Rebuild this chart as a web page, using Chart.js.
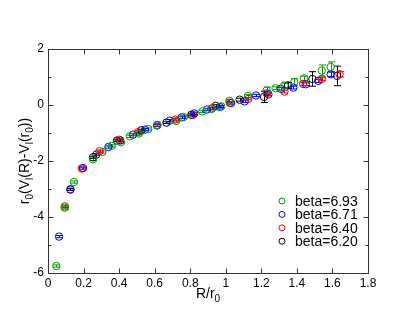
<!DOCTYPE html>
<html>
<head>
<meta charset="utf-8">
<script src="https://cdn.jsdelivr.net/npm/chart.js@4"></script>
<style>
  body { margin: 0; background: #fff; }
  #wrap { width: 415px; height: 321px; }
</style>
</head>
<body>
<div id="wrap"><canvas id="potChart" width="415" height="321"></canvas></div>
<script>
// beta = 6.93
const x693 = [0.047, 0.094, 0.146, 0.253, 0.306, 0.358, 0.41, 0.46, 0.51, 0.564, 0.615, 0.72, 0.763, 0.868, 0.92, 0.975, 1.02, 1.125, 1.23, 1.28, 1.33, 1.385, 1.44, 1.54, 1.59];
const y693 = [-5.75, -3.67, -2.75, -1.94, -1.68, -1.46, -1.33, -1.12, -1.02, -0.86, -0.72, -0.57, -0.43, -0.23, -0.14, -0.05, 0.15, 0.32, 0.52, 0.60, 0.70, 0.82, 0.95, 1.23, 1.36];
const e693 = [0.04, 0.04, 0.04, 0.04, 0.04, 0.04, 0.04, 0.04, 0.04, 0.04, 0.04, 0.04, 0.04, 0.04, 0.04, 0.04, 0.05, 0.05, 0.12, 0.05, 0.08, 0.12, 0.08, 0.2, 0.18];
// beta = 6.71
const x671 = [0.062, 0.126, 0.197, 0.272, 0.34, 0.407, 0.478, 0.546, 0.613, 0.684, 0.752, 0.823, 0.894, 0.966, 1.03, 1.106, 1.17, 1.24, 1.31, 1.38, 1.45, 1.52, 1.59];
const y671 = [-4.70, -3.01, -2.25, -1.77, -1.50, -1.27, -1.06, -0.88, -0.73, -0.56, -0.44, -0.30, -0.16, -0.07, 0.07, 0.13, 0.34, 0.38, 0.58, 0.62, 0.74, 0.86, 1.10];
const e671 = [0.04, 0.04, 0.04, 0.04, 0.04, 0.04, 0.04, 0.04, 0.04, 0.04, 0.04, 0.04, 0.04, 0.04, 0.04, 0.04, 0.04, 0.05, 0.05, 0.05, 0.05, 0.06, 0.08];
// beta = 6.40
const x640 = [0.094, 0.19, 0.29, 0.40, 0.506, 0.615, 0.716, 0.816, 0.92, 1.022, 1.127, 1.23, 1.33, 1.435, 1.54, 1.64];
const y640 = [-3.62, -2.27, -1.65, -1.24, -0.97, -0.71, -0.52, -0.35, -0.12, 0.08, 0.22, 0.42, 0.48, 0.75, 0.93, 1.10];
const e640 = [0.04, 0.04, 0.04, 0.04, 0.04, 0.04, 0.04, 0.04, 0.04, 0.04, 0.04, 0.05, 0.05, 0.05, 0.06, 0.1];
// beta = 6.20
const x620 = [0.126, 0.253, 0.388, 0.525, 0.666, 0.806, 0.943, 1.078, 1.215, 1.35, 1.487, 1.626];
const y620 = [-3.02, -1.87, -1.27, -0.90, -0.63, -0.35, -0.03, 0.19, 0.29, 0.70, 0.93, 1.04];
const e620 = [0.03, 0.03, 0.03, 0.03, 0.03, 0.03, 0.04, 0.05, 0.2, 0.1, 0.26, 0.35];

const seriesLabels = ['beta=6.93', 'beta=6.71', 'beta=6.40', 'beta=6.20'];
const seriesColors = ['rgb(0,160,0)', 'rgb(0,0,255)', 'rgb(255,0,0)', 'rgb(0,0,0)'];
const xTicks = [0, 0.2, 0.4, 0.6, 0.8, 1, 1.2, 1.4, 1.6, 1.8];
const yTicks = [-6, -4, -2, 0, 2];

const FONT = '"Liberation Sans", Arial, sans-serif';

function makeSet(label, color, xs, ys, es) {
    return {
        label: label,
        data: xs.map((x, i) => ({ x: x, y: ys[i], err: es[i] })),
        borderColor: color,
        backgroundColor: 'rgba(0,0,0,0)',
        borderWidth: 1,
        pointRadius: 3.7,
        pointHoverRadius: 3.7,
        showLine: false
    };
}

// frame, inward ticks, error bars, axis titles with subscripts, legend
const decorPlugin = {
    id: 'decor',
    beforeDatasetsDraw: (chart) => {
        const ctx = chart.ctx;
        const xs = chart.scales.x, ys = chart.scales.y;
        ctx.save();
        ctx.lineWidth = 1;
        chart.data.datasets.forEach((ds) => {
            ctx.strokeStyle = ds.borderColor;
            ds.data.forEach(p => {
                const px = Math.round(xs.getPixelForValue(p.x)) + 0.5;
                const top = ys.getPixelForValue(p.y + p.err);
                const bot = ys.getPixelForValue(p.y - p.err);
                ctx.beginPath();
                ctx.moveTo(px, top); ctx.lineTo(px, bot);
                ctx.moveTo(px - 3.5, top); ctx.lineTo(px + 3.5, top);
                ctx.moveTo(px - 3.5, bot); ctx.lineTo(px + 3.5, bot);
                ctx.stroke();
            });
        });
        ctx.restore();
    },
    afterDraw: (chart) => {
        const ctx = chart.ctx;
        const a = chart.chartArea;
        const xs = chart.scales.x, ys = chart.scales.y;
        const L = Math.round(a.left) + 0.5, R = Math.round(a.right) + 0.5;
        const T = Math.round(a.top) + 0.5, B = Math.round(a.bottom) + 0.5;
        ctx.save();
        ctx.strokeStyle = '#333';
        ctx.lineWidth = 1;
        ctx.strokeRect(L, T, R - L, B - T);
        ctx.beginPath();
        xTicks.forEach(v => {
            const px = Math.round(xs.getPixelForValue(v)) + 0.5;
            ctx.moveTo(px, B); ctx.lineTo(px, B - 5);
            ctx.moveTo(px, T); ctx.lineTo(px, T + 5);
        });
        for (let v = -6; v <= 2; v += 1) {
            const py = Math.round(ys.getPixelForValue(v)) + 0.5;
            const len = (v % 2 === 0) ? 5 : 3;
            ctx.moveTo(L, py); ctx.lineTo(L + len, py);
            ctx.moveTo(R, py); ctx.lineTo(R - len, py);
        }
        ctx.stroke();

        // axis titles with subscripts
        ctx.fillStyle = '#000';
        ctx.textBaseline = 'alphabetic';
        const drawParts = (parts, x0, y0) => {
            let x = x0;
            parts.forEach(p => {
                ctx.font = (p[1] ? '10px ' : '14px ') + FONT;
                ctx.fillText(p[0], x, y0 + (p[1] ? 4 : 0));
                x += ctx.measureText(p[0]).width;
            });
            return x - x0;
        };
        const measure = (parts) => parts.reduce((w, p) => {
            ctx.font = (p[1] ? '10px ' : '14px ') + FONT;
            return w + ctx.measureText(p[0]).width;
        }, 0);

        const xTitle = [['R/r', 0], ['0', 1]];
        const xw = measure(xTitle);
        ctx.textAlign = 'left';
        drawParts(xTitle, (a.left + a.right) / 2 - xw / 2, 298);

        const yTitle = [['r', 0], ['0', 1], ['(V', 0], ['l', 1], ['(R)-V', 0], ['l', 1], ['(r', 0], ['0', 1], ['))', 0]];
        const yw = measure(yTitle);
        ctx.translate(29, (a.top + a.bottom) / 2);
        ctx.rotate(-Math.PI / 2);
        drawParts(yTitle, -yw / 2, 0);
        ctx.restore();

        // legend
        ctx.save();
        ctx.font = '14px ' + FONT;
        ctx.textBaseline = 'middle';
        ctx.textAlign = 'left';
        chart.data.datasets.forEach((ds, i) => {
            const ly = 201 + i * 13.4;
            ctx.strokeStyle = ds.borderColor;
            ctx.lineWidth = 1;
            ctx.beginPath();
            ctx.arc(282, ly, 3, 0, Math.PI * 2);
            ctx.stroke();
            ctx.fillStyle = '#000';
            ctx.fillText(ds.label, 295, ly + 1);
        });
        ctx.restore();
    }
};

new Chart(document.getElementById('potChart').getContext('2d'), {
    type: 'scatter',
    plugins: [decorPlugin],
    data: {
        datasets: [
            makeSet(seriesLabels[0], seriesColors[0], x693, y693, e693),
            makeSet(seriesLabels[1], seriesColors[1], x671, y671, e671),
            makeSet(seriesLabels[2], seriesColors[2], x640, y640, e640),
            makeSet(seriesLabels[3], seriesColors[3], x620, y620, e620)
        ]
    },
    options: {
        responsive: false,
        animation: false,
        layout: { padding: { top: 49, right: 47, left: 0, bottom: 0 } },
        plugins: {
            legend: { display: false },
            tooltip: { enabled: false }
        },
        scales: {
            x: {
                type: 'linear',
                min: 0, max: 1.8,
                afterFit: (s) => { s.height = 48; },
                afterBuildTicks: (s) => { s.ticks = xTicks.map(v => ({ value: v })); },
                grid: { display: false, drawTicks: false },
                border: { display: false },
                ticks: {
                    padding: 3,
                    color: '#000',
                    font: { family: FONT, size: 12 },
                    callback: (v) => String(+v.toFixed(1))
                }
            },
            y: {
                type: 'linear',
                min: -6, max: 2,
                afterFit: (s) => { s.width = 48; },
                afterBuildTicks: (s) => { s.ticks = yTicks.map(v => ({ value: v })); },
                grid: { display: false, drawTicks: false },
                border: { display: false },
                ticks: {
                    padding: 4,
                    color: '#000',
                    font: { family: FONT, size: 12 },
                    callback: (v) => String(v)
                }
            }
        }
    }
});
</script>
</body>
</html>
